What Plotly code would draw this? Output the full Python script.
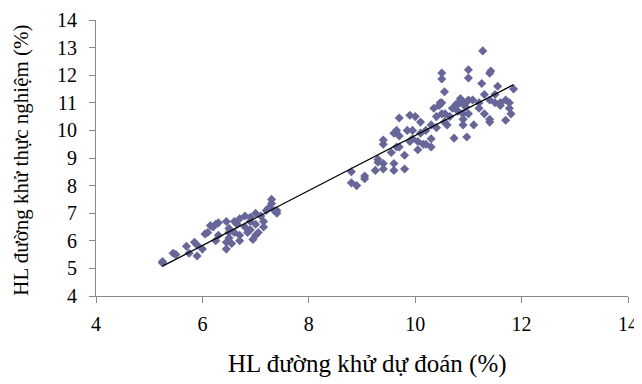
import numpy as np
import plotly.graph_objects as go

# Predicted (x) and experimental (y) reducing sugar values (%)
predicted = [
    5.25, 5.25, 5.5, 5.45, 5.7, 5.75, 5.85, 5.9, 5.9, 6.0, 6.05, 6.1, 6.15, 6.2, 6.25,
    6.3, 6.3, 6.45, 6.5, 6.5, 6.45, 6.45, 6.5, 6.55, 6.6, 6.65, 6.7, 6.7, 6.7, 6.8,
    6.85, 6.9, 6.9, 6.95, 6.9, 7.0, 7.0, 7.0, 7.05, 7.1, 7.15, 7.15, 7.2, 7.25, 7.3,
    7.3, 7.35, 7.4, 7.4, 6.25, 6.6, 6.8,
    8.8, 8.8, 8.9, 9.05, 9.05, 9.25, 9.3, 9.3, 9.4, 9.4, 9.4, 9.4, 9.55, 9.6, 9.6,
    9.65, 9.65, 9.7, 9.7, 9.7, 9.8, 9.8, 9.85, 9.9, 9.9, 9.95, 9.95, 9.6,
    10.0, 10.05, 10.05, 10.1, 10.1, 10.15, 10.2, 10.2, 10.3, 10.3, 10.3, 10.35,
    10.4, 10.4, 10.45, 10.5, 10.5, 10.55, 10.55, 10.5, 10.5, 10.6, 10.65, 10.7,
    10.73, 10.8, 10.8, 10.85, 10.9, 10.9, 10.95, 10.95, 11.0, 11.0, 11.0, 11.1, 10.97,
    11.2, 11.2, 11.25, 11.27, 11.3, 11.3, 11.4, 11.42, 11.4, 11.4, 11.4, 11.5,
    11.5, 11.55, 11.6, 11.6, 11.7, 11.7, 11.77, 11.77, 11.8, 11.85,
    10.85, 10.9, 11.0, 10.47, 10.56, 10.77, 11.08, 10.9,
]
experimental = [
    5.25, 5.2, 5.5, 5.55, 5.8, 5.55, 5.95, 5.85, 5.45, 5.7, 6.25, 6.3, 6.55, 6.5, 6.0,
    6.65, 6.2, 6.7, 6.45, 6.3, 5.95, 5.7, 6.1, 5.9, 6.3, 6.6, 6.8, 6.2, 6.0, 6.5,
    6.3, 6.7, 6.4, 6.05, 6.85, 7.0, 6.6, 6.2, 6.3, 6.9, 6.7, 6.5, 7.1, 7.2, 7.5,
    7.35, 7.1, 7.0, 7.1, 6.6, 6.7, 6.9,
    8.1, 8.5, 8.0, 8.25, 8.35, 8.55, 8.95, 8.85, 9.5, 9.65, 8.8, 8.6, 9.2, 8.55, 8.8,
    9.4, 10.0, 9.4, 9.8, 10.45, 9.1, 8.6, 10.0, 9.6, 10.55, 10.0, 9.7, 9.9,
    10.5, 9.6, 9.3, 9.9, 10.3, 9.5, 10.0, 9.5, 10.2, 9.7, 9.4, 10.8,
    10.5, 10.1, 10.9, 11.0, 10.6, 10.3, 11.4, 11.86, 12.08, 10.2, 10.5, 10.8,
    9.72, 10.95, 10.7, 11.0, 10.6, 10.4, 11.0, 10.85, 10.6, 12.2, 11.9, 10.2, 9.76,
    11.0, 10.8, 11.7, 12.88, 11.3, 10.6, 11.1, 12.15, 12.07, 10.4, 10.3, 11.3,
    11.0, 11.6, 10.9, 11.0, 11.1, 10.37, 10.8, 11.0, 10.6, 11.5,
    11.15, 11.0, 11.1, 11.0, 10.6, 10.95, 11.1, 10.2,
]

x_ticks = [4, 6, 8, 10, 12, 14]
y_ticks = [4, 5, 6, 7, 8, 9, 10, 11, 12, 13, 14]
x_title = "HL đường khử dự đoán (%)"
y_title = "HL đường khử thực nghiệm (%)"

px_arr = np.array(predicted)
ey_arr = np.array(experimental)
slope, intercept = np.polyfit(px_arr, ey_arr, 1)
line_x = np.array([px_arr.min(), px_arr.max()])
line_y = slope * line_x + intercept

font_family = "Liberation Serif, Times New Roman, serif"

fig = go.Figure()
fig.add_trace(go.Scatter(
    x=predicted, y=experimental, mode="markers",
    marker=dict(symbol="diamond", size=7, color="#666699"),
    showlegend=False, hoverinfo="skip",
))
fig.add_trace(go.Scatter(
    x=line_x, y=line_y, mode="lines",
    line=dict(color="black", width=1.3),
    showlegend=False, hoverinfo="skip",
))

axis_common = dict(
    showgrid=False, zeroline=False, showline=True, linecolor="#888888", linewidth=1,
    ticks="outside", ticklen=6, tickcolor="#888888", automargin=False,
    ticklabeloverflow="allow",
    tickfont=dict(family=font_family, size=20, color="black"),
)
# The page body has an 8px margin, so the figure is offset by 8px in the window.
fig.update_layout(
    width=634, height=376,
    margin=dict(l=88, r=14, t=12, b=88),
    paper_bgcolor="white", plot_bgcolor="white",
    xaxis=dict(range=[4, 14], tickvals=x_ticks, ticklabelstandoff=4, **axis_common),
    yaxis=dict(range=[4, 14], tickvals=y_ticks, ticklabelstandoff=8, **axis_common),
    annotations=[
        dict(text=x_title, xref="paper", yref="paper", x=0.51, y=0,
             xanchor="center", yanchor="middle", yshift=-68, showarrow=False,
             font=dict(family=font_family, size=25, color="black")),
        dict(text=y_title, xref="paper", yref="paper", x=0, y=0.49,
             xanchor="center", yanchor="middle", xshift=-75, textangle=-90,
             showarrow=False,
             font=dict(family=font_family, size=21, color="black")),
    ],
)
fig.write_html("out.html")
